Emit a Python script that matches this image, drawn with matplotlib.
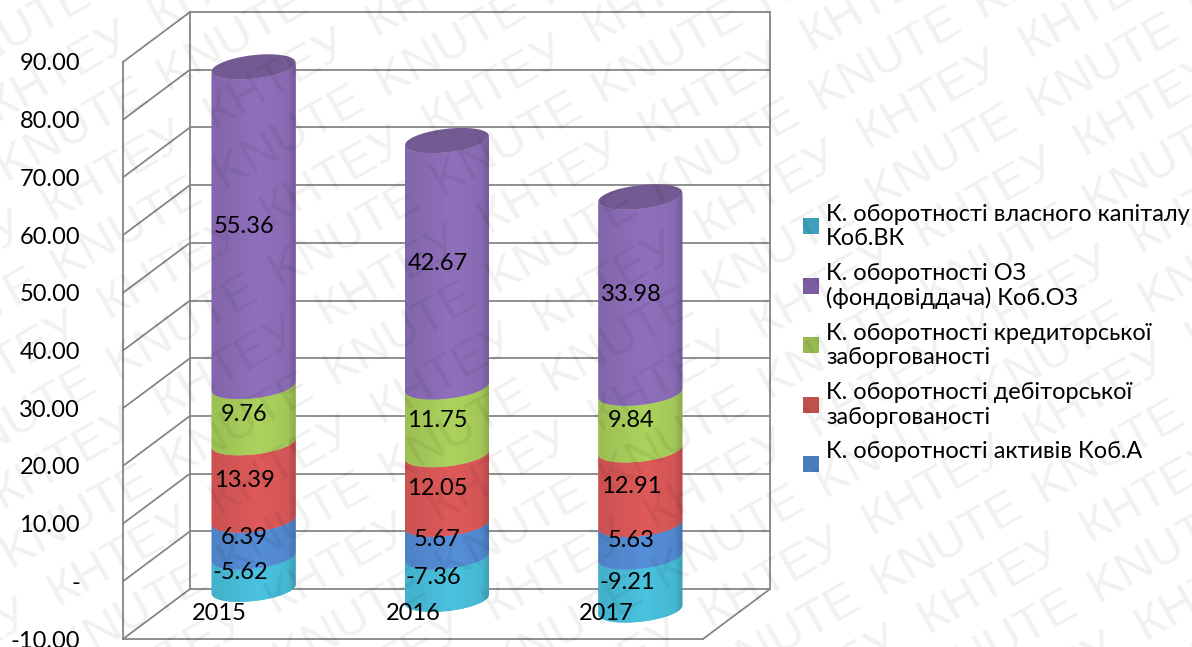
"""
Stacked 3D-style cylinder chart of turnover ratios, 2015-2017
"""
#Imports
import numpy as np
import matplotlib
matplotlib.use("Agg")
import matplotlib.pyplot as plt
from matplotlib.patches import Rectangle
from matplotlib.ticker import FuncFormatter

# Data, stacked from the axis upwards; the equity ratio goes below zero
years = ["2015", "2016", "2017"]
assets = [6.39, 5.67, 5.63]
receivables = [13.39, 12.05, 12.91]
payables = [9.76, 11.75, 9.84]
fixed_assets = [55.36, 42.67, 33.98]
equity = [-5.62, -7.36, -9.21]
y_ticks = [-10, 0, 10, 20, 30, 40, 50, 60, 70, 80, 90]

legend_labels = [
    "К. оборотності власного капіталу\nКоб.ВК",
    "К. оборотності ОЗ\n(фондовіддача) Коб.ОЗ",
    "К. оборотності кредиторської\nзаборгованості",
    "К. оборотності дебіторської\nзаборгованості",
    "К. оборотності активів Коб.А",
]
legend_colors = ["#3f9fbc", "#7c5da2", "#97b94f", "#c0504d", "#4a7ebb"]
watermark_words = ["KNUTE", "КНТЕУ"]

FONT = ["Lato", "Open Sans", "DejaVu Sans"]
W, H = 1192, 647
GRID = "#868686"

# Chart geometry: the front plane in pixels, the rest in data units
LEFT, RIGHT, TOP, BOTTOM = 123, 703, 62, 639
PX_X = (RIGHT - LEFT) / 3
PX_Y = (BOTTOM - TOP) / 100
DEPTH_X = 67 / PX_X
DEPTH_Y = 50 / PX_Y
RAD_X = 42 / PX_X
RAD_Y = 11.8 / PX_Y
TILT = 4.5 / PX_Y


def front_arc(u):
    # lower edge of the tilted ellipse, u runs from -1 to 1
    return TILT * u - RAD_Y * np.sqrt(1 - u ** 2)


def back_arc(u):
    return TILT * u + RAD_Y * np.sqrt(1 - u ** 2)


def shade(color, u):
    # darker at both sides, brightest a bit right of the middle
    rgb = np.array(matplotlib.colors.to_rgb(color))
    factor = 1 - 0.09 * abs(u - 0.15)
    if u > 0.82:
        factor -= 0.9 * (u - 0.82)
    return tuple(np.clip(rgb * factor, 0, 1))


def draw_segment(ax, cx, y0, y1, color):
    # solid body first so the seams of the strips do not show
    full = np.linspace(-1, 1, 121)
    ax.fill_between(cx + RAD_X * full, y0 + front_arc(full), y1 + front_arc(full),
                    color=shade(color, 0.6), lw=0, zorder=3, clip_on=False)
    edges = np.sin(np.linspace(-np.pi / 2, np.pi / 2, 61))
    for u0, u1 in zip(edges[:-1], edges[1:]):
        us = np.linspace(u0, u1, 4)
        col = shade(color, (u0 + u1) / 2)
        ax.fill_between(cx + RAD_X * us, y0 + front_arc(us), y1 + front_arc(us),
                        color=col, lw=0, zorder=3, clip_on=False)


def draw_walls(ax):
    line = dict(color=GRID, lw=1.3, clip_on=False, zorder=1)
    for v in y_ticks:
        ax.plot([-0.5, -0.5 + DEPTH_X], [v, v + DEPTH_Y], **line)
        ax.plot([-0.5 + DEPTH_X, 2.5 + DEPTH_X], [v + DEPTH_Y, v + DEPTH_Y], **line)
    for x in [-0.5 + DEPTH_X, 2.5 + DEPTH_X]:
        ax.plot([x, x], [-10 + DEPTH_Y, 90 + DEPTH_Y], **line)
    ax.plot([2.5, 2.5 + DEPTH_X], [-10, -10 + DEPTH_Y], **line)


fig = plt.figure(figsize=(W / 100, H / 100), dpi=100)
ax = fig.add_axes([LEFT / W, 1 - BOTTOM / H, (RIGHT - LEFT) / W, (BOTTOM - TOP) / H])
ax.patch.set_visible(False)
ax.set_xlim(-0.5, 2.5)
ax.set_ylim(-10, 90)
draw_walls(ax)

for side in ["top", "right"]:
    ax.spines[side].set_visible(False)
for side in ["left", "bottom"]:
    ax.spines[side].set_color(GRID)
    ax.spines[side].set_linewidth(1.3)

ax.set_yticks(y_ticks)
ax.yaxis.set_major_formatter(FuncFormatter(lambda v, pos: "-" if v == 0 else f"{v:.2f}"))
ax.set_xticks(range(len(years)))
ax.set_xticklabels(years)
ax.tick_params(axis="y", length=0, pad=31, labelsize=17, labelfontfamily=FONT[0])
ax.tick_params(axis="x", length=0, pad=-26, labelsize=17, labelfontfamily=FONT[0])
# year labels sit on top of the cylinders
ax.xaxis.set_zorder(6)

series = [
    (assets, "#568fd9"),
    (receivables, "#e05a5a"),
    (payables, "#acd35d"),
    (fixed_assets, "#9070bd"),
]

for i in range(len(years)):
    cx = i + DEPTH_X / 2
    shift = DEPTH_Y / 2

    # part below zero
    draw_segment(ax, cx, shift + equity[i], shift, "#4ac3e0")
    ax.text(cx - 13 / PX_X, shift + equity[i] / 2, f"{equity[i]:.2f}", ha="center", va="center",
            fontsize=17, family=FONT, zorder=5)

    # stack above zero
    base = 0
    for values, color in series:
        draw_segment(ax, cx, shift + base, shift + base + values[i], color)
        ax.text(cx - 9 / PX_X, shift + base + values[i] / 2, f"{values[i]:.2f}", ha="center", va="center",
                fontsize=17, family=FONT, zorder=5)
        base += values[i]

    # lid of the cylinder
    us = np.linspace(-1, 1, 121)
    ax.fill_between(cx + RAD_X * us, shift + base + front_arc(us), shift + base + back_arc(us),
                    color="#735a93", lw=0, zorder=4, clip_on=False)

# Legend is placed by hand, the rows are not evenly filled
for n, (label, color) in enumerate(zip(legend_labels, legend_colors)):
    row = 226 + n * 59.5
    fig.add_artist(Rectangle((803 / W, 1 - (row + 8) / H), 16 / W, 16 / H, transform=fig.transFigure,
                             facecolor=color, edgecolor="none"))
    text_y = row + 0.5 if "\n" in label else row - 13
    fig.text(826 / W, 1 - text_y / H, label, ha="left", va="center", fontsize=16.9, family=FONT,
             linespacing=1.2)

# Watermark over the whole picture
angle = np.deg2rad(29.5)
along = np.array([np.cos(angle), -np.sin(angle)])
across = np.array([np.sin(angle), np.cos(angle)])
anchor = np.array([820.0, 110.0])
for r in range(-16, 17):
    for c in range(-12, 13):
        pos = anchor + r * 56.5 * across + (c * 186 + (r % 2) * 22) * along
        if -150 < pos[0] < W + 20 and -20 < pos[1] < H + 150:
            fig.text(pos[0] / W, 1 - pos[1] / H, watermark_words[r % 2], rotation=29.5, rotation_mode="anchor",
                     ha="left", va="baseline", fontsize=35, family="Liberation Sans",
                     color=(0, 0, 0, 0.06), zorder=10)

fig.savefig("out.png", dpi=100)
